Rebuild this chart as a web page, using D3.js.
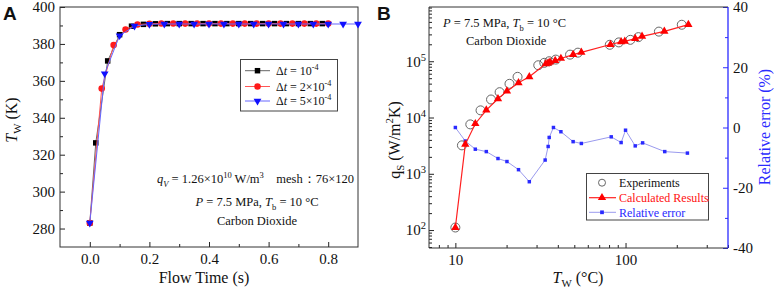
<!DOCTYPE html>
<html><head><meta charset="utf-8">
<script src="https://cdn.jsdelivr.net/npm/d3@7"></script>
<style>
body{margin:0;background:#fff}
svg{display:block}
text{font-family:"Liberation Serif","Times New Roman",serif;fill:#111;white-space:pre}
</style>
</head><body>
<svg id="c" width="775" height="289" font-family="Liberation Serif"></svg>
<script>
// ---------- Panel A data ----------
const tBlack = [0, 0.02, 0.06, 0.10, 0.14, 0.18, 0.22, 0.26, 0.30, 0.34, 0.38, 0.42, 0.46, 0.50, 0.54, 0.58, 0.62, 0.66, 0.70, 0.74, 0.78];
const TBlack = [283.0, 326.4, 370.8, 385.0, 389.6, 390.6, 390.9, 391.0, 391.0, 391.0, 391.0, 391.0, 391.0, 391.0, 391.0, 391.0, 391.0, 391.0, 391.0, 391.0, 391.0];
const tRed = [0, 0.04, 0.08, 0.12, 0.16, 0.20, 0.24, 0.28, 0.32, 0.36, 0.40, 0.44, 0.48, 0.52, 0.56, 0.60, 0.64, 0.68, 0.72, 0.76, 0.80];
const TRed = [283.0, 355.8, 379.4, 387.8, 390.5, 390.9, 391.1, 391.1, 391.0, 391.0, 391.0, 391.0, 391.0, 391.0, 391.0, 391.0, 391.0, 391.0, 391.0, 391.0, 391.0];
const tBlue = [0, 0.05, 0.10, 0.15, 0.20, 0.25, 0.30, 0.35, 0.40, 0.45, 0.50, 0.55, 0.60, 0.65, 0.70, 0.75, 0.80, 0.85, 0.90];
const TBlue = [283.0, 363.9, 384.5, 389.7, 390.6, 390.8, 390.8, 390.8, 390.8, 390.8, 390.8, 390.8, 390.8, 390.8, 390.8, 390.8, 390.8, 390.8, 390.8];
const xTicksA = [0, 0.2, 0.4, 0.6, 0.8];
const xMinorA = [0.1, 0.3, 0.5, 0.7];
const yTicksA = [280, 300, 320, 340, 360, 380, 400];
const yMinorA = [290, 310, 330, 350, 370, 390];

// ---------- Panel B data ----------
const expT = [10, 10.93, 12.24, 14.06, 16.2, 18.2, 20.8, 23.2, 30.7, 33.3, 35.6, 38.9, 47.2, 52.5, 80.8, 91.3, 106.7, 119, 157, 214];
const expQ = [111, 3200, 7550, 13400, 20900, 28200, 39700, 52800, 84900, 93700, 100000, 107000, 131000, 142000, 196000, 216000, 240000, 268000, 336000, 445000];
const calT = [10, 11.44, 13.1, 15.2, 17.8, 20.1, 23.5, 27.2, 34.0, 35.1, 36.0, 38.6, 41.7, 49.2, 55, 81.6, 94.2, 99, 114, 125, 169, 234];
const calQ = [111, 3335, 7760, 13500, 21500, 29400, 41400, 52900, 90000, 93000, 97000, 103000, 112000, 131000, 144000, 198000, 221000, 226000, 252000, 277000, 340000, 448000];
const errT = [10, 11.44, 13.1, 15.2, 17.8, 20.1, 23.5, 27.2, 33.7, 35.1, 35.6, 37.7, 41.7, 49.2, 55, 82.4, 94.2, 100, 114, 126, 170, 231];
const errV = [0, -4.5, -7.2, -8.0, -10.3, -11.3, -14.0, -18.0, -10.8, -6.3, -3.3, 0, -1.4, -4.7, -5.3, -3.1, -5.0, -0.9, -6.1, -5.1, -8.0, -8.5];
const xTicksB = [10, 100];
const xMinorB = [8, 9, 20, 30, 40, 50, 60, 70, 80, 90, 200, 300, 400];
const yTicksB = [1e2, 1e3, 1e4, 1e5];
const yExpB = [2, 3, 4, 5];
const yMinorB = [50, 60, 70, 80, 90, 200, 300, 400, 500, 600, 700, 800, 900, 2e3, 3e3, 4e3, 5e3, 6e3, 7e3, 8e3, 9e3, 2e4, 3e4, 4e4, 5e4, 6e4, 7e4, 8e4, 9e4, 2e5, 3e5, 4e5, 5e5, 6e5, 7e5, 8e5, 9e5];
const yTicksR = [-40, -20, 0, 20, 40];
const yMinorR = [-30, -10, 10, 30];

const svg = d3.select("#c");
const BLUE = "#2a2aff";
const SERIF = '"Liberation Serif","Times New Roman",serif';

function rich(parent, x, y, segs, fs, attrs = {}) {
  const t = parent.append("text").attr("x", x).attr("y", y)
    .style("font-size", fs + "px").style("font-family", SERIF);
  Object.entries(attrs).forEach(([k, v]) => t.attr(k, v));
  let shift = 0;
  segs.forEach(s => {
    const [str, kind] = typeof s === "string" ? [s, ""] : s;
    const sp = t.append("tspan").text(str);
    let target = 0;
    if (kind.includes("b")) { target = 0.28 * fs; sp.style("font-size", (0.68 * fs) + "px"); }
    if (kind.includes("p")) { target = -0.42 * fs; sp.style("font-size", (0.68 * fs) + "px"); }
    if (kind.includes("i")) sp.style("font-style", "italic");
    if (target - shift !== 0) sp.attr("dy", target - shift);
    shift = target;
  });
  return t;
}

function styleAxis(g, color) {
  g.select(".domain").remove();
  g.attr("font-family", null);
  g.selectAll(".tick line").attr("stroke", color).attr("stroke-width", 1);
  g.selectAll(".tick text").style("font-size", "15px").style("font-family", SERIF).attr("fill", color);
}

// ================= Panel A =================
const xA = d3.scaleLinear([-0.1, 0.9], [60, 358]);
const yA = d3.scaleLinear([270, 400], [247, 7]);
const gA = svg.append("g");

gA.append("g").attr("transform", "translate(0,247)")
  .call(d3.axisBottom(xA).tickValues(xTicksA).tickFormat(d3.format(".1f")).tickSize(-5).tickSizeOuter(0).tickPadding(6))
  .call(g => styleAxis(g, "#222"));
gA.append("g").attr("transform", "translate(0,247)")
  .call(d3.axisBottom(xA).tickValues(xMinorA).tickFormat("").tickSize(-3).tickSizeOuter(0))
  .call(g => styleAxis(g, "#222"));
gA.append("g").attr("transform", "translate(60,0)")
  .call(d3.axisLeft(yA).tickValues(yTicksA).tickSize(-5).tickSizeOuter(0).tickPadding(5))
  .call(g => styleAxis(g, "#222"));
gA.append("g").attr("transform", "translate(60,0)")
  .call(d3.axisLeft(yA).tickValues(yMinorA).tickFormat("").tickSize(-3).tickSizeOuter(0))
  .call(g => styleAxis(g, "#222"));
gA.append("rect").attr("x", 60).attr("y", 7).attr("width", 298).attr("height", 240)
  .attr("fill", "none").attr("stroke", "#333").attr("stroke-width", 1);

const seriesA = [
  {t: tBlack, v: TBlack, color: "#000", line: "#666", sym: d3.symbolSquare, size: 30, rot: 0},
  {t: tRed, v: TRed, color: "#ff1a1a", line: "#ff5555", sym: d3.symbolCircle, size: 34, rot: 0},
  {t: tBlue, v: TBlue, color: "#1010ff", line: "#6666ff", sym: d3.symbolTriangle, size: 26, rot: 180}
];
const lineA = d3.line().x(d => xA(d[0])).y(d => yA(d[1]));
seriesA.forEach(s => {
  const pts = s.t.map((t, i) => [t, s.v[i]]);
  gA.append("path").attr("d", lineA(pts)).attr("fill", "none").attr("stroke", s.line).attr("stroke-width", 1);
  gA.selectAll(null).data(pts).enter().append("path")
    .attr("d", d3.symbol(s.sym, s.size))
    .attr("transform", d => `translate(${xA(d[0])},${yA(d[1])}) rotate(${s.rot})`)
    .attr("fill", s.color);
});

// legend A
const lgA = gA.append("g");
lgA.append("rect").attr("x", 240.5).attr("y", 59.5).attr("width", 97).attr("height", 51.5)
  .attr("fill", "#fff").attr("stroke", "#444").attr("stroke-width", 1);
const legA = [
  [["Δ", ""], ["t", "i"], " = 10", ["-4", "p"]],
  [["Δ", ""], ["t", "i"], " = 2×10", ["-4", "p"]],
  [["Δ", ""], ["t", "i"], " = 5×10", ["-4", "p"]]
];
[70.7, 86.5, 101].forEach((yy, i) => {
  const s = seriesA[i];
  lgA.append("line").attr("x1", 245).attr("x2", 270).attr("y1", yy).attr("y2", yy).attr("stroke", s.line).attr("stroke-width", 1);
  lgA.append("path").attr("d", d3.symbol(s.sym, s.size)).attr("transform", `translate(257.5,${yy}) rotate(${s.rot})`).attr("fill", s.color);
  rich(lgA, 276, yy + 4.2, legA[i], 12);
});

// annotations A
rich(gA, 157, 183, [["q", "i"], ["V", "ib"], " = 1.26×10", ["10", "p"], " W/m", ["3", "p"], "\u00a0\u00a0\u00a0\u00a0mesh：76×120"], 12.5);
rich(gA, 257, 206, [["P", "i"], " = 7.5 MPa, ", ["T", "i"], ["b", "b"], " = 10 °C"], 12.5, {"text-anchor": "middle"});
rich(gA, 257, 225, ["Carbon Dioxide"], 12.5, {"text-anchor": "middle"});

// axis titles A
rich(gA, 204, 283, ["Flow Time (s)"], 16, {"text-anchor": "middle"});
rich(gA, 0, 0, [["T", "i"], ["W", "b"], " (K)"], 16, {"text-anchor": "middle", "transform": "translate(17,120) rotate(-90)"});
svg.append("text").attr("x", 3).attr("y", 20).text("A")
  .style("font-family", '"Liberation Sans",Arial,sans-serif').style("font-weight", "bold").style("font-size", "19px");

// ================= Panel B =================
const xB = d3.scaleLog([7, 400], [429, 728]);
const yB = d3.scaleLog([48, 9.2e5], [248, 7]);
const yR = d3.scaleLinear([-40, 40], [248, 7]);
const gB = svg.append("g");

gB.append("g").attr("transform", "translate(0,248)")
  .call(d3.axisBottom(xB).tickValues(xTicksB).tickFormat(d3.format("d")).tickSize(-5).tickSizeOuter(0).tickPadding(6))
  .call(g => styleAxis(g, "#222"));
gB.append("g").attr("transform", "translate(0,248)")
  .call(d3.axisBottom(xB).tickValues(xMinorB).tickFormat("").tickSize(-3).tickSizeOuter(0))
  .call(g => styleAxis(g, "#222"));
const yAxB = gB.append("g").attr("transform", "translate(429,0)")
  .call(d3.axisLeft(yB).tickValues(yTicksB).tickSize(-5).tickSizeOuter(0).tickPadding(3))
  .call(g => styleAxis(g, "#222"));
yAxB.selectAll(".tick text").each(function(d, i) {
  const t = d3.select(this);
  t.text("");
  t.append("tspan").text("10");
  t.append("tspan").text(yExpB[i]).attr("dy", -6).style("font-size", "10.5px");
});
gB.append("g").attr("transform", "translate(429,0)")
  .call(d3.axisLeft(yB).tickValues(yMinorB).tickFormat("").tickSize(-3).tickSizeOuter(0))
  .call(g => styleAxis(g, "#222"));
gB.append("g").attr("transform", "translate(728,0)")
  .call(d3.axisRight(yR).tickValues(yTicksR).tickFormat(d => String(d)).tickSize(-5).tickSizeOuter(0).tickPadding(5))
  .call(g => styleAxis(g, BLUE));
gB.append("g").attr("transform", "translate(728,0)")
  .call(d3.axisRight(yR).tickValues(yMinorR).tickFormat("").tickSize(-3).tickSizeOuter(0))
  .call(g => styleAxis(g, BLUE));
gB.append("path").attr("d", "M728,7H429V248H728").attr("fill", "none").attr("stroke", "#333").attr("stroke-width", 1);
gB.append("line").attr("x1", 728).attr("x2", 728).attr("y1", 7).attr("y2", 248).attr("stroke", BLUE).attr("stroke-width", 1.3);

// relative error series
const errPts = errT.map((t, i) => [t, errV[i]]);
gB.append("path").attr("d", d3.line().x(d => xB(d[0])).y(d => yR(d[1]))(errPts))
  .attr("fill", "none").attr("stroke", "#9a9aee").attr("stroke-width", 1);
gB.selectAll(null).data(errPts).enter().append("path")
  .attr("d", d3.symbol(d3.symbolSquare, 12))
  .attr("transform", d => `translate(${xB(d[0])},${yR(d[1])})`).attr("fill", BLUE);

// experiments
const expPts = expT.map((t, i) => [t, expQ[i]]);
gB.selectAll(null).data(expPts).enter().append("circle")
  .attr("cx", d => xB(d[0])).attr("cy", d => yB(d[1])).attr("r", 4.5)
  .attr("fill", "none").attr("stroke", "#666").attr("stroke-width", 1);

// calculated
const calPts = calT.map((t, i) => [t, calQ[i]]);
gB.append("path").attr("d", d3.line().x(d => xB(d[0])).y(d => yB(d[1]))(calPts))
  .attr("fill", "none").attr("stroke", "#ff2020").attr("stroke-width", 1.2);
gB.selectAll(null).data(calPts).enter().append("path")
  .attr("d", d3.symbol(d3.symbolTriangle, 30))
  .attr("transform", d => `translate(${xB(d[0])},${yB(d[1])})`).attr("fill", "#ff0000");

// legend B
const lgB = gB.append("g");
lgB.append("rect").attr("x", 586.5).attr("y", 173.5).attr("width", 122).attr("height", 46.5)
  .attr("fill", "#fff").attr("stroke", "#444").attr("stroke-width", 1);
lgB.append("circle").attr("cx", 602).attr("cy", 182.7).attr("r", 3.5).attr("fill", "none").attr("stroke", "#666");
rich(lgB, 619, 186.9, ["Experiments"], 12);
lgB.append("line").attr("x1", 589).attr("x2", 616).attr("y1", 197.7).attr("y2", 197.7).attr("stroke", "#ff2020").attr("stroke-width", 1.2);
lgB.append("path").attr("d", d3.symbol(d3.symbolTriangle, 30)).attr("transform", "translate(602,197.7)").attr("fill", "#ff0000");
rich(lgB, 619, 201.9, ["Calculated Results"], 12).style("fill", "#ff1010");
lgB.append("line").attr("x1", 589).attr("x2", 616).attr("y1", 212.3).attr("y2", 212.3).attr("stroke", "#9a9aee").attr("stroke-width", 1);
lgB.append("path").attr("d", d3.symbol(d3.symbolSquare, 14)).attr("transform", "translate(602,212.3)").attr("fill", BLUE);
rich(lgB, 619, 216.5, ["Relative error"], 12).style("fill", BLUE);

// annotations B
rich(gB, 443, 27, [["P", "i"], " = 7.5 MPa, ", ["T", "i"], ["b", "b"], " = 10 °C"], 12.5);
rich(gB, 466, 45, ["Carbon Dioxide"], 12.5);

// axis titles B
rich(gB, 578, 283, [["T", "i"], ["W", "b"], " (°C)"], 16, {"text-anchor": "middle"});
rich(gB, 0, 0, ["q", ["S", "b"], " (W/m", ["2", "p"], "K)"], 16, {"text-anchor": "middle", "transform": "translate(400,140) rotate(-90)"});
rich(gB, 0, 0, ["Relative error (%)"], 16, {"text-anchor": "middle", "transform": "translate(770,127) rotate(-90)"}).style("fill", BLUE);
svg.append("text").attr("x", 377).attr("y", 20).text("B")
  .style("font-family", '"Liberation Sans",Arial,sans-serif').style("font-weight", "bold").style("font-size", "19px");
</script>
</body></html>
